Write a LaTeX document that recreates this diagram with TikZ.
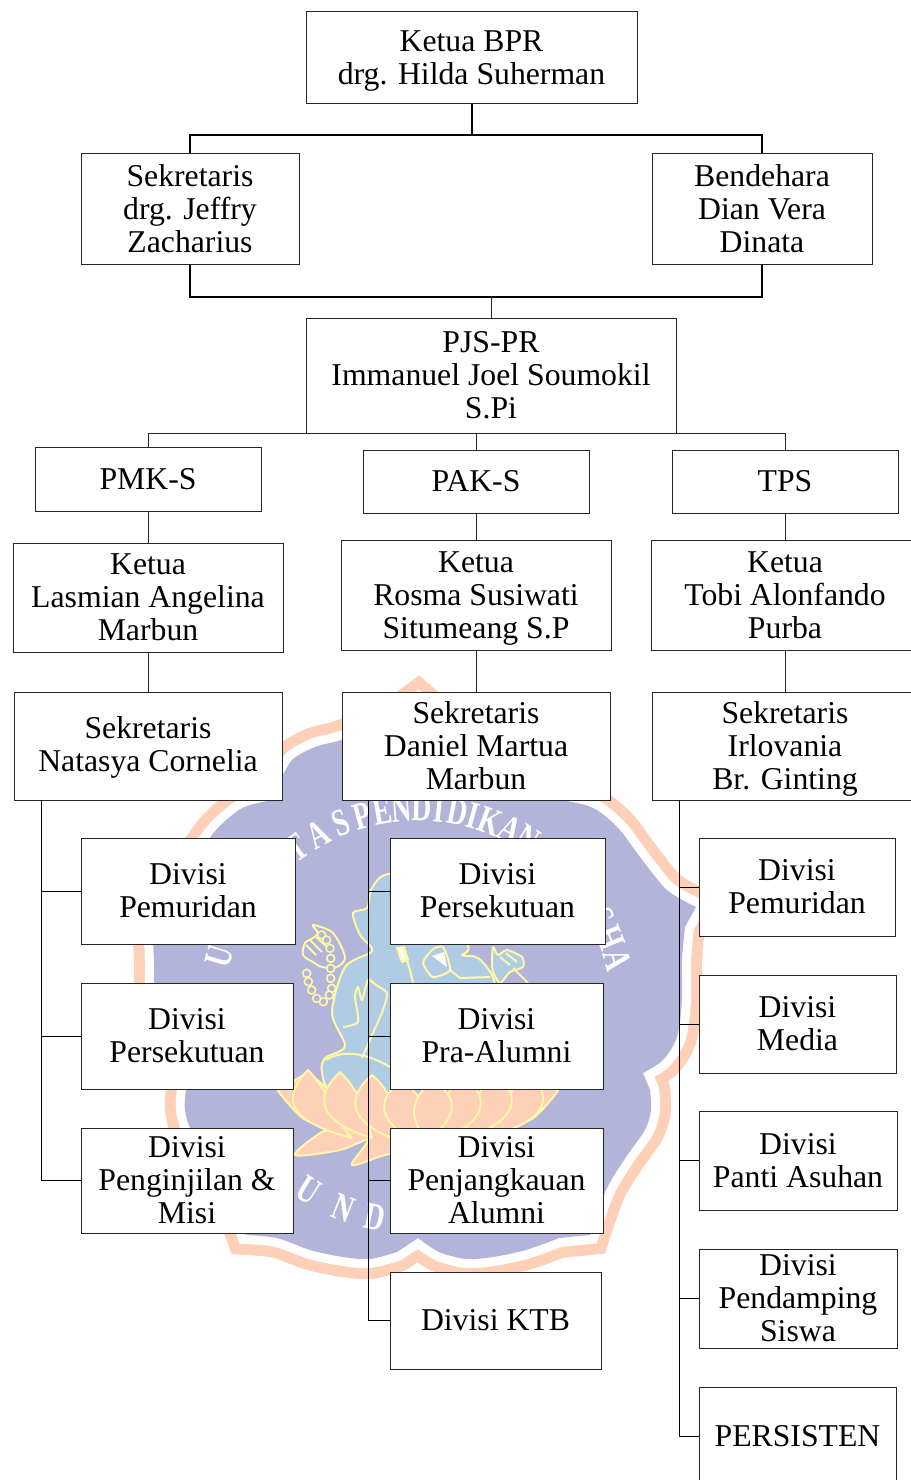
\documentclass[tikz,border=0pt]{standalone}
\usepackage{fontspec}
\setmainfont{Liberation Serif}
\usetikzlibrary{calc}
\usetikzlibrary{positioning}

\definecolor{logopeach}{HTML}{FFD0B8}
\definecolor{logolavender}{HTML}{B2B4D9}
\definecolor{logoblue}{HTML}{B0CCE4}
\definecolor{logoyellow}{HTML}{FFF7A6}

\newcommand{\nudge}[1]{\rule{0pt}{#1pt}}

\tikzset{
	orgbox/.style 2 args={draw=black!85, fill=white, align=center, line width=0.75pt, inner sep=0pt,
		minimum width=#1*0.75pt, minimum height=#2*0.75pt,
		font=\fontsize{23.8}{24.75}\selectfont},
	logoshape/.style={insert path={
		plot[smooth, tension=0.5] coordinates {(418,701) (446,722) (495,740) (521,747) (543,759) (553,775) (554,798)}
		-- plot[smooth, tension=0.5] coordinates {(586,805) (600,812) (620,830) (640,857) (667,890) (696,907)}
		-- plot[smooth, tension=0.5] coordinates {(685,927) (682,960) (682,1000) (677,1037) (663,1060) (643,1073)}
		-- plot[smooth, tension=0.5] coordinates {(650,1090) (651,1110) (645,1130) (626,1157) (606,1190) (590,1235)}
		-- plot[smooth, tension=0.5] coordinates {(559,1238) (526,1250) (493,1257) (466,1259) (439,1252) (418,1238)}
		-- plot[smooth, tension=0.5] coordinates {(397,1252) (370,1259) (343,1257) (310,1250) (277,1238) (246,1235)}
		-- plot[smooth, tension=0.5] coordinates {(230,1190) (210,1157) (191,1130) (185,1110) (186,1090) (193,1073)}
		-- plot[smooth, tension=0.5] coordinates {(173,1060) (159,1037) (154,1000) (154,960) (151,927) (140,907)}
		-- plot[smooth, tension=0.5] coordinates {(169,890) (196,857) (216,830) (236,812) (250,805) (282,798)}
		-- plot[smooth, tension=0.5] coordinates {(283,775) (293,759) (315,747) (341,740) (390,722)}
		-- cycle}},
	logoline/.style={draw=logoyellow, line width=1.5pt, line join=round},
	logotext/.style={text=white, inner sep=0pt, xscale=0.72, font=\fontsize{29}{29}\selectfont\bfseries},
	petal/.style={logoline, fill=logopeach}
}

\begin{document}
\begin{tikzpicture}[x=0.75pt, y=-0.75pt]
	\useasboundingbox (0,0) rectangle (910,1480);

	% watermark
	\begin{scope}[line join=miter, miter limit=20]
		\path[draw=logopeach, line width=30pt, logoshape];
		\path[draw=white, line width=13.5pt, logoshape];
		\path[fill=logolavender, logoshape];
	\end{scope}

	\foreach \a/\c in {126/T, 119/A, 112/S, 105.5/P, 100/E, 94.5/N, 89/D, 84/I, 79/D, 74.5/I, 69.5/K, 63.5/A, 58/N, 28/S, 21.8/H, 15.4/A, 163.5/U}
		\node[rotate=\a-90, logotext] (upper\a) at ({418+207*cos(\a)},{1015-207*sin(\a)}) {\c};
	\foreach \a/\c in {238/U, 249/N, 258/D}
		\node[rotate=\a+90, logotext] (lower\a) at ({418+207*cos(\a)},{1015-207*sin(\a)}) {\c};

	% lotus base
	\draw[petal] plot[smooth, tension=0.5] coordinates {(278,1091) (304,1119) (340,1130) (322,1132) (295,1155) (340,1150) (368,1140) (352,1165) (385,1155) (418,1150) (451,1155) (484,1165) (468,1140) (496,1150) (541,1155) (514,1132) (496,1130) (532,1119) (558,1091)} -- (528,1072) -- (500,1096) -- (336,1096) -- (308,1072) -- cycle;

	% ganesha
	\draw[logoline, fill=logoblue] plot[smooth cycle, tension=0.5] coordinates {(353,913) (367,908) (372,888) (389,874) (440,885) (468,945) (462,955) (478,958) (494,980) (500,1030) (505,1092) (418,1098) (335,1092) (322,1072) (325,1058) (345,1046) (332,1013) (345,967) (372,951) (360,935)};
	\draw[logoline, fill=logolavender] plot[smooth cycle, tension=0.5] coordinates {(313,925) (333,933) (345,957) (337,967) (322,967) (313,962) (303,955) (305,943) (313,938) (318,933)};
	\draw[logoline] (306,945) -- (316,955) (310,940) -- (322,952) (316,937) -- (326,946);
	\foreach \x/\y in {95/105, 110/120, 120/145, 122/175, 122/205, 122/235, 125/265, 118/285, 100/305, 80/295, 65/270, 55/245, 50/220}
		\draw[logoline, line width=1.2pt, fill=logolavender] ({290+\x/3},{900+\y/3}) circle (4);
	\draw[logoline] plot[smooth, tension=0.4] coordinates {(343,1027) (358,1022) (355,997) (358,987) (362,1000) (368,980) (376,985) (387,993) (383,1010) (373,1033) (362,1058)};
	\draw[logoline] (326,1060) .. controls (345,1048) and (370,1055) .. (390,1067);
	\draw[logoline, fill=white] (397,948) -- (404,947) -- (408,960) -- (402,962) -- cycle;
	\draw[logoline] (403,947) -- (410,970) -- (413,983);
	\draw[logoline, fill=logoblue] plot[smooth cycle, tension=0.4] coordinates {(432,950) (443,947) (450,970) (433,977) (423,963)};
	\fill[white] (432,956) -- (444,952) -- (447,967) -- cycle;
	\draw[logoline] (450,970) -- (460,978) -- (490,977);
	\draw[logoline, fill=logoblue] plot[smooth cycle, tension=0.4] coordinates {(493,947) (498,955) (507,950) (522,957) (523,967) (510,972) (500,983) (493,972) (492,963)};
	\draw[logoline] (500,957) -- (510,965) (506,953) -- (517,962) (513,968) -- (528,983);

	% lotus petals
	\foreach \tx/\ty/\bx in {308/1070/352, 528/1070/484, 340/1072/372, 496/1072/464, 372/1075/392, 464/1075/444, 402/1082/410, 434/1082/426}
		\draw[petal] (\bx,1138) .. controls (\tx-26,1120) and (\tx-24,1095) .. (\tx,\ty) .. controls (\tx+24,1095) and (\tx+26,1120) .. (\bx,1138);

	% boxes
	\node[orgbox={331}{92}] (ketuabpr) at (471.5,58) {\nudge{20.7}Ketua BPR\\drg. Hilda Suherman};
	\node[orgbox={218}{110}] (sekretaris) at (190,209) {Sekretaris\\drg. Jeffry\\Zacharius};
	\node[orgbox={220}{110}] (bendahara) at (762,209) {Bendehara\\Dian Vera\\Dinata};
	\node[orgbox={370}{115}] (pjspr) at (491,375.5) {PJS-PR\\Immanuel Joel Soumokil\\S.Pi};

	\node[orgbox={226}{64}] (pmks) at (148,479) {PMK-S};
	\node[orgbox={226}{63}] (paks) at (476,481.5) {PAK-S};
	\node[orgbox={226}{63}] (tps) at (785,481.5) {TPS};

	\node[orgbox={270}{109}] (ketuapmk) at (148,597.5) {Ketua\\Lasmian Angelina\\Marbun};
	\node[orgbox={270}{110}] (ketuapak) at (476,595) {\nudge{21}Ketua\\Rosma Susiwati\\Situmeang S.P};
	\node[orgbox={268}{110}] (ketuatps) at (785,595) {Ketua\\Tobi Alonfando\\Purba};

	\node[orgbox={268}{108}] (sekpmk) at (148,746) {\nudge{19}Sekretaris\\Natasya Cornelia};
	\node[orgbox={268}{108}] (sekpak) at (476,746) {Sekretaris\\Daniel Martua\\Marbun};
	\node[orgbox={265}{108}] (sektps) at (785,746) {\nudge{20.7}Sekretaris\\Irlovania\\Br. Ginting};

	\node[orgbox={214}{106}] (pmkpemuridan) at (188,891) {Divisi\\Pemuridan};
	\node[orgbox={212}{106}] (pmkpersekutuan) at (187,1036) {Divisi\\Persekutuan};
	\node[orgbox={212}{105}] (pmkpenginjilan) at (187,1180.5) {Divisi\\Penginjilan \&\\Misi};

	\node[orgbox={215}{106}] (pakpersekutuan) at (497.5,891) {Divisi\\Persekutuan};
	\node[orgbox={213}{106}] (pakpraalumni) at (496.5,1036) {Divisi\\Pra-Alumni};
	\node[orgbox={213}{105}] (pakpenjangkauan) at (496.5,1180.5) {Divisi\\Penjangkauan\\Alumni};
	\node[orgbox={211}{97}] (pakktb) at (495.5,1320.5) {Divisi KTB};

	\node[orgbox={196}{98}] (tpspemuridan) at (797,887) {Divisi\\Pemuridan};
	\node[orgbox={197}{98}] (tpsmedia) at (797.5,1024) {Divisi\\Media};
	\node[orgbox={198}{99}] (tpspanti) at (798,1160.5) {Divisi\\Panti Asuhan};
	\node[orgbox={198}{99}] (tpspendamping) at (798,1298.5) {Divisi\\Pendamping\\Siswa};
	\node[orgbox={197}{98}] (tpspersisten) at (797.5,1436) {PERSISTEN};

	% connectors
	\coordinate (busketua) at (471.5,135);
	\coordinate (buspjs) at (491,297);
	\coordinate (railpmk) at (41,800);
	\coordinate (railpak) at (368.5,800);
	\coordinate (railtps) at (679,800);

	\begin{scope}[line width=1.5pt]
		\draw (ketuabpr) -- (busketua);
		\draw (sekretaris.north) |- (busketua) -| (bendahara.north);
		\draw (sekretaris.south) |- (buspjs) -| (bendahara.south);
	\end{scope}

	\begin{scope}[every edge/.style={draw=black!85, line width=0.75pt}]
		\path (buspjs) edge (pjspr);
		\path (pmks) edge (ketuapmk);
		\path (ketuapmk) edge (sekpmk);
		\path (paks) edge (ketuapak);
		\path (ketuapak) edge (sekpak);
		\path (tps) edge (ketuatps);
		\path (ketuatps) edge (sektps);
	\end{scope}

	\begin{scope}[draw=black!85, line width=0.75pt]
		\draw (pmks.north) |- (pjspr.south west);
		\draw (tps.north) |- (pjspr.south east);
		\draw (paks.north) -- (paks.north |- pjspr.south);
	\end{scope}

	\begin{scope}[line width=0.7pt]
		\foreach \n in {pmkpemuridan, pmkpersekutuan, pmkpenginjilan}
			\draw (railpmk) |- (\n);
		\foreach \n in {pakpersekutuan, pakpraalumni, pakpenjangkauan, pakktb}
			\draw (railpak) |- (\n);
		\foreach \n in {tpspemuridan, tpsmedia, tpspanti, tpspendamping, tpspersisten}
			\draw (railtps) |- (\n);
	\end{scope}
\end{tikzpicture}
\end{document}
